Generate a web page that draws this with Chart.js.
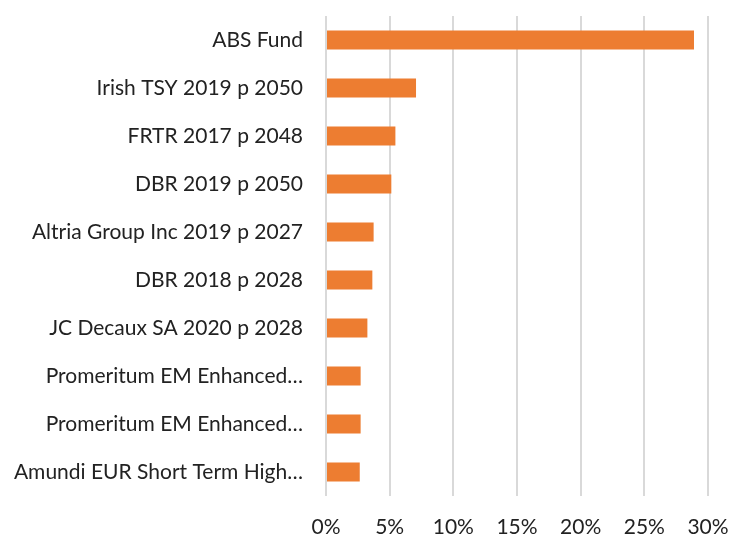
<!DOCTYPE html>
<html>
<head>
<meta charset="utf-8">
<script src="https://cdn.jsdelivr.net/npm/chart.js@4/dist/chart.umd.min.js"></script>
<style>
  html, body { margin: 0; padding: 0; background: white; }
  #wrap { width: 730px; height: 540px; }
</style>
</head>
<body>
<div id="wrap"><canvas id="grafico"></canvas></div>
<script>
// dados
const categorias = [
  'ABS Fund',
  'Irish TSY 2019 p 2050',
  'FRTR 2017 p 2048',
  'DBR 2019 p 2050',
  'Altria Group Inc 2019 p 2027',
  'DBR 2018 p 2028',
  'JC Decaux SA 2020 p 2028',
  'Promeritum EM Enhanced…',
  'Promeritum EM Enhanced…',
  'Amundi EUR Short Term High…'
]
const pesos = [28.9, 7.07, 5.45, 5.13, 3.74, 3.64, 3.25, 2.72, 2.72, 2.65]
const ticksX = [0, 5, 10, 15, 20, 25, 30]

Chart.defaults.font.family = 'Lato, sans-serif'
Chart.defaults.font.size = 21
Chart.defaults.color = '#222'

const ctx = document.getElementById('grafico')

const config = {
  type: 'bar',
  data: {
    labels: categorias,
    datasets: [{
      data: pesos,
      backgroundColor: '#ed7d31',
      categoryPercentage: 1,
      barPercentage: 0.4
    }]
  },
  options: {
    indexAxis: 'y',
    responsive: true,
    maintainAspectRatio: false,
    animation: false,
    layout: { padding: { top: 16, right: 22, left: 0, bottom: 0 } },
    plugins: { legend: { display: false }, tooltip: { enabled: false } },
    scales: {
      x: {
        min: 0,
        max: 30,
        afterBuildTicks: s => { s.ticks = ticksX.map(v => ({ value: v })) },
        afterFit: s => { s.height = 44; s.paddingLeft = 0; s.paddingRight = 0 },
        ticks: { callback: v => v + '%', padding: 19 },
        grid: { color: '#d9d9d9', lineWidth: 2, drawTicks: false },
        border: { display: false }
      },
      y: {
        afterFit: s => { s.width = 326; s.paddingTop = 0; s.paddingBottom = 0 },
        ticks: { padding: 23 },
        grid: { display: false, drawTicks: false },
        border: { display: false }
      }
    }
  }
}

new Chart(ctx, config)
</script>
</body>
</html>
